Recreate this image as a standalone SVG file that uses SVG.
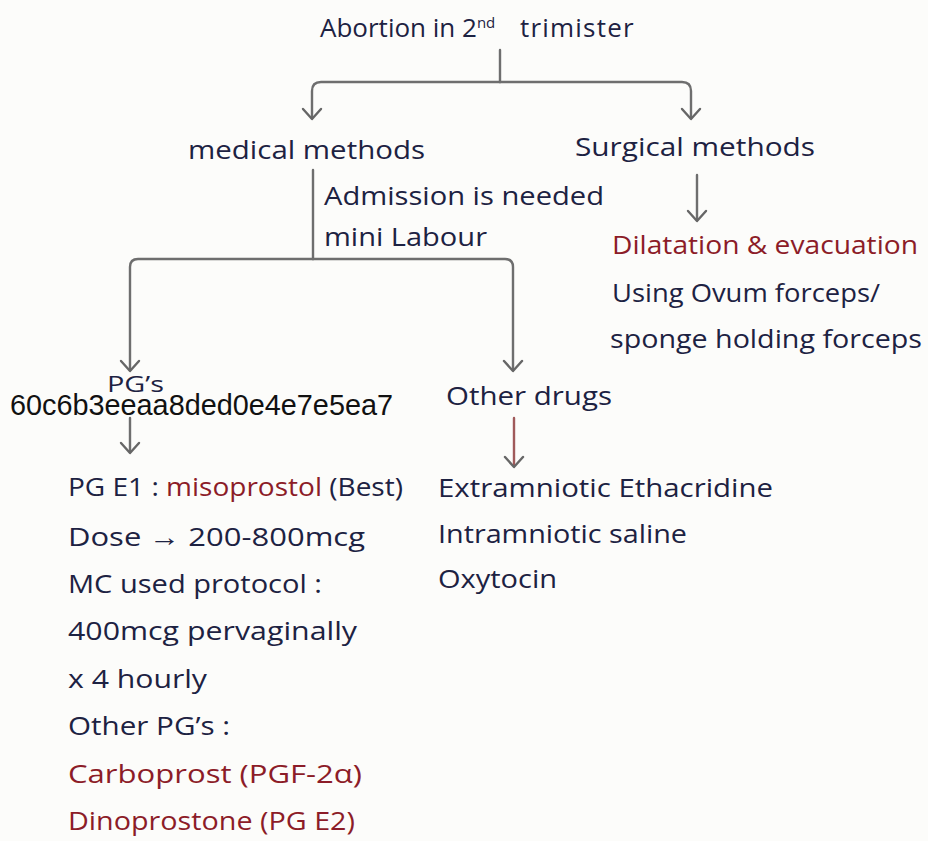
<svg xmlns="http://www.w3.org/2000/svg" width="928" height="841" viewBox="0 0 928 841">
  <style>
    .t { font-family: "Open Sans", "Liberation Sans", sans-serif; font-size: 26px; fill: #1d2242; }
    .r { fill: #8c1c28; }
    .hash { font-family: "Liberation Sans", Arial, sans-serif; font-size: 28.8px; fill: #111111; }
    .ln { fill: none; stroke: #6e6e6e; stroke-width: 2.4; stroke-linecap: round; stroke-linejoin: round; }
    .rl { fill: none; stroke: #a05a5a; stroke-width: 2.4; stroke-linecap: round; }
    .hd { fill: none; stroke: #666666; stroke-width: 2.4; stroke-linecap: round; stroke-linejoin: round; }
  </style>
  <rect width="928" height="841" fill="#fcfcfa"/>

  <!-- connectors -->
  <g id="connectors">
    <!-- root split -->
    <path class="ln" d="M500 50 V82"/>
    <path class="ln" d="M500 82 H321 Q312 82 312 91 V118"/>
    <path class="ln" d="M500 82 H682 Q691 82 691 91 V118"/>
    <path class="hd" d="M303 109 L312 119 L321 109"/>
    <path class="hd" d="M682 109 L691 119 L700 109"/>
    <!-- medical split -->
    <path class="ln" d="M313 170 V259"/>
    <path class="ln" d="M313 259 H138 Q130 259 130 267 V370"/>
    <path class="ln" d="M313 259 H505 Q513 259 513 267 V370"/>
    <path class="hd" d="M121 361 L130 371 L139 361"/>
    <path class="hd" d="M504 361 L513 371 L522 361"/>
    <!-- surgical -->
    <path class="ln" d="M697 175 V220"/>
    <path class="hd" d="M688 211 L697 221 L706 211"/>
    <!-- PG's -->
    <path class="ln" d="M130 418 V452"/>
    <path class="hd" d="M121 443 L130 453 L139 443"/>
    <!-- other drugs -->
    <path class="rl" d="M514 418 V466"/>
    <path class="hd" d="M505 457 L514 467 L523 457"/>
  </g>

  <g id="root">
    <text class="t" x="320" y="37">Abortion in 2<tspan dy="-9" style="font-size:15px">nd</tspan><tspan x="520" dy="9" letter-spacing="1.2">trimister</tspan></text>
  </g>

  <g id="medical">
    <text class="t" x="188" y="159" textLength="237" lengthAdjust="spacingAndGlyphs">medical methods</text>
  </g>

  <g id="medical-notes">
    <text class="t" x="324" y="205" textLength="280" lengthAdjust="spacingAndGlyphs">Admission is needed</text>
    <text class="t" x="324" y="246" textLength="163" lengthAdjust="spacingAndGlyphs">mini Labour</text>
  </g>

  <g id="surgical">
    <text class="t" x="575" y="156" textLength="240" lengthAdjust="spacingAndGlyphs">Surgical methods</text>
  </g>

  <g id="surgical-detail">
    <text class="t r" x="612" y="254" textLength="306" lengthAdjust="spacingAndGlyphs">Dilatation &amp; evacuation</text>
    <text class="t" x="612" y="302" textLength="268" lengthAdjust="spacingAndGlyphs">Using Ovum forceps/</text>
    <text class="t" x="610" y="348" textLength="312" lengthAdjust="spacingAndGlyphs">sponge holding forceps</text>
  </g>

  <g id="pgs">
    <text class="t" x="107" y="392" style="font-size:22px" textLength="57" lengthAdjust="spacingAndGlyphs">PG’s</text>
    <text class="hash" x="10" y="415" textLength="383" lengthAdjust="spacingAndGlyphs">60c6b3eeaa8ded0e4e7e5ea7</text>
  </g>

  <g id="other-drugs">
    <text class="t" x="446" y="405" textLength="166" lengthAdjust="spacingAndGlyphs">Other drugs</text>
  </g>

  <g id="pg-detail">
    <text class="t" x="68" y="496" textLength="335" lengthAdjust="spacingAndGlyphs">PG E1 : <tspan class="r">misoprostol</tspan> (Best)</text>
    <text class="t" x="68" y="546" textLength="297" lengthAdjust="spacingAndGlyphs">Dose → 200-800mcg</text>
    <text class="t" x="68" y="593" textLength="254" lengthAdjust="spacingAndGlyphs">MC used protocol :</text>
    <text class="t" x="68" y="640" textLength="289" lengthAdjust="spacingAndGlyphs">400mcg pervaginally</text>
    <text class="t" x="68" y="688" textLength="139" lengthAdjust="spacingAndGlyphs">x 4 hourly</text>
    <text class="t" x="68" y="735" textLength="162" lengthAdjust="spacingAndGlyphs">Other PG’s :</text>
    <text class="t r" x="68" y="783" textLength="294" lengthAdjust="spacingAndGlyphs">Carboprost (PGF-2α)</text>
    <text class="t r" x="68" y="830" textLength="287" lengthAdjust="spacingAndGlyphs">Dinoprostone (PG E2)</text>
  </g>

  <g id="other-detail">
    <text class="t" x="438" y="497" textLength="335" lengthAdjust="spacingAndGlyphs">Extramniotic Ethacridine</text>
    <text class="t" x="438" y="543" textLength="249" lengthAdjust="spacingAndGlyphs">Intramniotic saline</text>
    <text class="t" x="438" y="588" textLength="119" lengthAdjust="spacingAndGlyphs">Oxytocin</text>
  </g>
</svg>
